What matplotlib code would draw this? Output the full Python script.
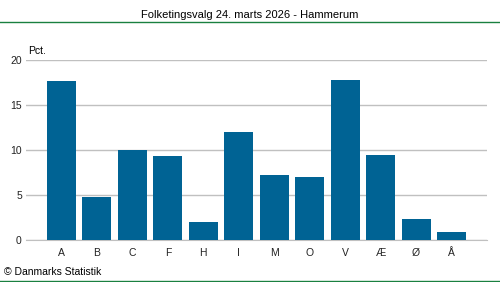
import matplotlib.pyplot as plt

partier = ['A', 'B', 'C', 'F', 'H', 'I', 'M', 'O', 'V', 'Æ', 'Ø', 'Å']
procent = [17.6, 4.8, 10.0, 9.3, 2.0, 12.0, 7.2, 7.0, 17.7, 9.4, 2.3, 0.9]
yticks = [0, 5, 10, 15, 20]

plt.rcParams['font.family'] = ['Liberation Sans', 'DejaVu Sans']

fig = plt.figure(figsize=(5, 2.82), dpi=100)
ax = fig.add_axes([26 / 500, 1 - 240 / 282, 461 / 500, 180.5 / 282])

x = list(range(len(partier)))
ax.bar(x, procent, width=0.82, color='#006394', zorder=3)

ax.set_xlim(-1, 12)
ax.set_ylim(0, 20)
ax.set_yticks(yticks)
ax.set_xticks(x)
ax.set_xticklabels(partier)
ax.tick_params(axis='both', length=0, labelsize=7.5, colors='#222222')
ax.tick_params(axis='x', pad=6)
ax.tick_params(axis='y', pad=3)
ax.grid(axis='y', color='#c0c0c0', linewidth=1, zorder=0)
for s in ['top', 'right', 'left']:
    ax.spines[s].set_visible(False)
ax.spines['bottom'].set_color('#c0c0c0')

# Titel og tekster
fig.text(0.5, 1 - 15 / 282, 'Folketingsvalg 24. marts 2026 - Hammerum', ha='center', va='center', fontsize=8)
fig.text(28 / 500, 1 - 51 / 282, 'Pct.', ha='left', va='center', fontsize=7.5)
fig.text(4 / 500, 1 - 272 / 282, '© Danmarks Statistik', ha='left', va='center', fontsize=7.5)

# Gronne linjer
fig.add_artist(plt.Line2D([0, 1], [1 - 22 / 282, 1 - 22 / 282], color='#1a8040', linewidth=1))
fig.add_artist(plt.Line2D([0, 1], [1 - 281 / 282, 1 - 281 / 282], color='#1a8040', linewidth=1))

fig.savefig('out.png', dpi=100)
